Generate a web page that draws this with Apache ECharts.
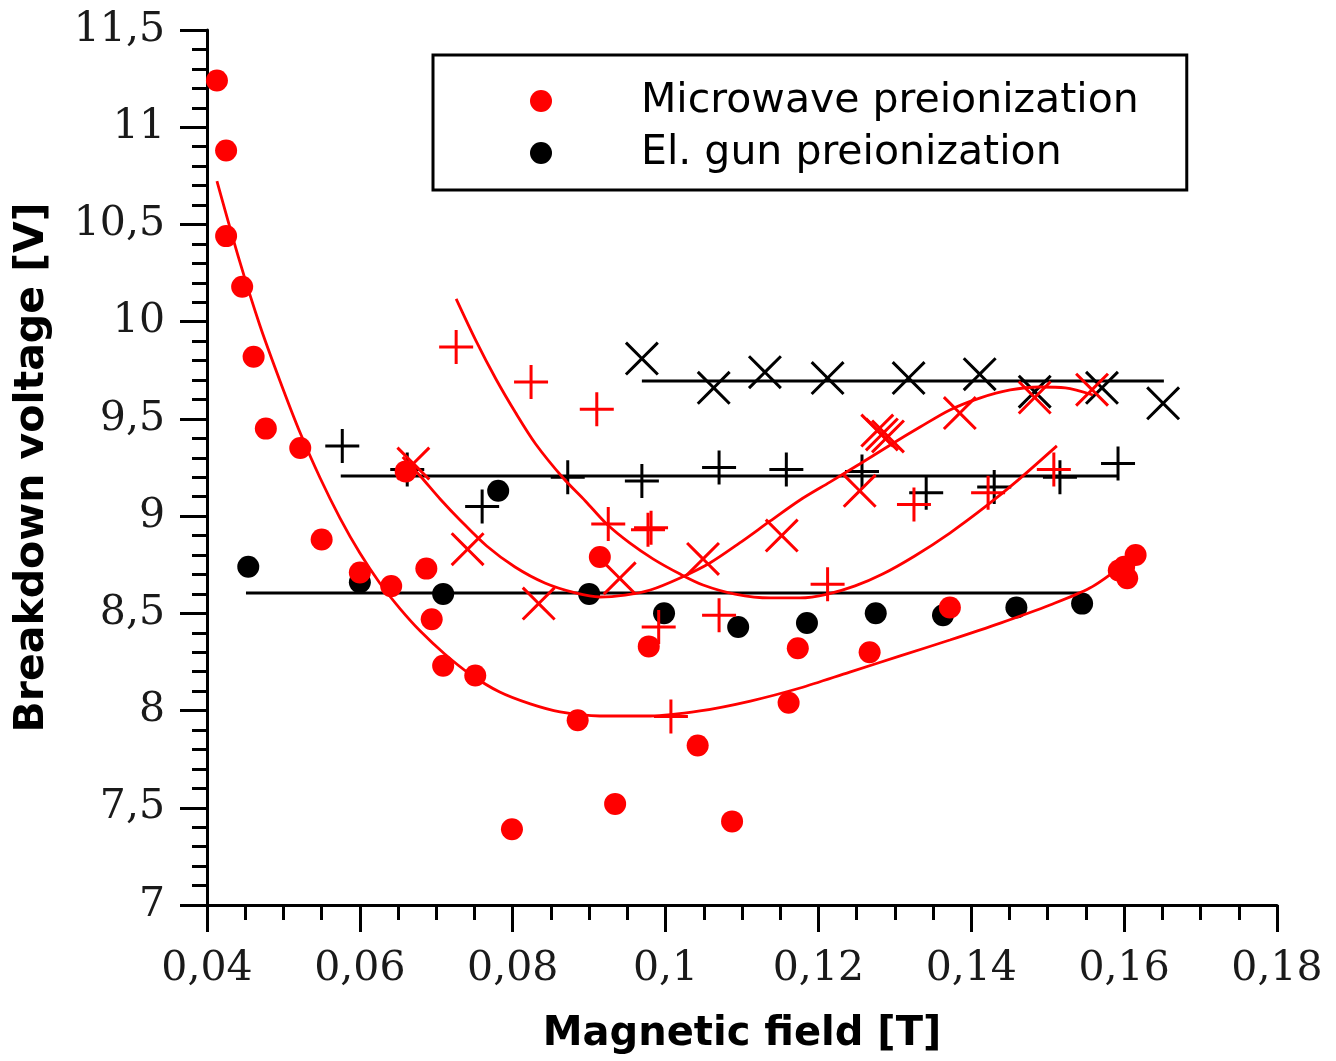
<!DOCTYPE html>
<html><head><meta charset="utf-8">
<script src="https://cdn.jsdelivr.net/npm/echarts@6/dist/echarts.min.js"></script>
<style>html,body{margin:0;padding:0;background:#fff}#chart{width:1336px;height:1061px}</style>
</head><body><div id="chart"></div>
<script>
// ---- axis ranges ----
const xRange = [0.04, 0.18, 0.02];
const yRange = [7, 11.5, 0.5];

// ---- measured points [B (T), U (V)] ----
const microwaveDots = [[0.0413,11.24],[0.0425,10.88],[0.0425,10.44],[0.0446,10.18],[0.0461,9.82],[0.0477,9.45],[0.0522,9.35],[0.0550,8.88],[0.0600,8.71],[0.0641,8.64],[0.0660,9.23],[0.0687,8.73],[0.0694,8.47],[0.0709,8.23],[0.0751,8.18],[0.0799,7.39],[0.0885,7.95],[0.0914,8.79],[0.0934,7.52],[0.0978,8.33],[0.1042,7.82],[0.1087,7.43],[0.1161,8.04],[0.1173,8.32],[0.1267,8.30],[0.1372,8.53],[0.1593,8.72],[0.1600,8.74],[0.1604,8.68],[0.1615,8.80]];
const gunDots = [[0.0454,8.74],[0.0600,8.66],[0.0709,8.60],[0.0781,9.13],[0.0900,8.60],[0.0998,8.50],[0.1095,8.43],[0.1185,8.45],[0.1275,8.50],[0.1363,8.49],[0.1459,8.53],[0.1545,8.55]];
const microwavePlus = [[0.0726,9.87],[0.0824,9.69],[0.0910,9.55],[0.0925,8.96],[0.0977,8.93],[0.0981,8.94],[0.0991,8.43],[0.1007,7.97],[0.1070,8.49],[0.1212,8.65],[0.1325,9.06],[0.1422,9.12],[0.1508,9.24]];
const gunPlus = [[0.0577,9.36],[0.0662,9.24],[0.0760,9.05],[0.0872,9.20],[0.0969,9.18],[0.1070,9.25],[0.1158,9.24],[0.1257,9.23],[0.1341,9.12],[0.1430,9.15],[0.1516,9.20],[0.1592,9.27]];
const microwaveCross = [[0.0670,9.27],[0.0741,8.83],[0.0834,8.55],[0.0940,8.68],[0.1049,8.78],[0.1152,8.90],[0.1254,9.13],[0.1277,9.44],[0.1283,9.42],[0.1291,9.41],[0.1385,9.53],[0.1483,9.61],[0.1558,9.65]];
const gunCross = [[0.0969,9.81],[0.1063,9.66],[0.1130,9.74],[0.1212,9.71],[0.1318,9.71],[0.1411,9.73],[0.1483,9.64],[0.1571,9.66],[0.1651,9.58]];

// ---- gun preionization mean levels ----
const gunLevelDots = [[0.0451,8.605],[0.1542,8.605]];
const gunLevelPlus = [[0.0575,9.206],[0.1592,9.206]];
const gunLevelCross = [[0.0969,9.695],[0.1652,9.695]];

// ---- microwave fit curves ----
const fitDots = [[0.0413,10.723],[0.0443,10.307],[0.0469,9.983],[0.0496,9.690],[0.0522,9.427],[0.0548,9.196],[0.0574,8.990],[0.0600,8.810],[0.0626,8.656],[0.0653,8.522],[0.0679,8.409],[0.0711,8.291],[0.0744,8.188],[0.0783,8.095],[0.0823,8.034],[0.0862,7.993],[0.0914,7.972],[0.0980,7.972],[0.1045,7.998],[0.1111,8.049],[0.1176,8.116],[0.1241,8.198],[0.1307,8.281],[0.1372,8.363],[0.1438,8.450],[0.1503,8.543],[0.1555,8.630],[0.1595,8.738]];
const fitCross = [[0.0656,9.304],[0.0679,9.206],[0.0705,9.088],[0.0731,8.980],[0.0766,8.846],[0.0803,8.738],[0.0842,8.656],[0.0882,8.605],[0.0914,8.584],[0.0947,8.594],[0.0980,8.620],[0.1019,8.682],[0.1058,8.759],[0.1097,8.862],[0.1137,8.975],[0.1176,9.083],[0.1215,9.175],[0.1254,9.268],[0.1294,9.366],[0.1333,9.458],[0.1372,9.546],[0.1411,9.607],[0.1451,9.649],[0.1490,9.664],[0.1523,9.659],[0.1559,9.623]];
const fitPlus = [[0.0726,10.117],[0.0752,9.901],[0.0778,9.705],[0.0804,9.530],[0.0830,9.371],[0.0866,9.196],[0.0895,9.078],[0.0923,8.959],[0.0953,8.862],[0.0984,8.779],[0.1019,8.702],[0.1049,8.646],[0.1091,8.599],[0.1137,8.579],[0.1176,8.579],[0.1212,8.599],[0.1248,8.641],[0.1284,8.702],[0.1326,8.795],[0.1372,8.913],[0.1418,9.047],[0.1460,9.181],[0.1512,9.361]];

const legendNames = ['Microwave preionization', 'El. gun preionization'];

const RED = '#ff0000', BLACK = '#000000';
const PLUS = 'path://M-17,-1.5L-1.5,-1.5L-1.5,-17L1.5,-17L1.5,-1.5L17,-1.5L17,1.5L1.5,1.5L1.5,17L-1.5,17L-1.5,1.5L-17,1.5Z';
const CROSS = 'path://M-14.88,-17L0,-2.12L14.88,-17L17,-14.88L2.12,0L17,14.88L14.88,17L0,2.12L-14.88,17L-17,14.88L-2.12,0L-17,-14.88Z';

function fmt(v) { return String(+v.toFixed(4)).replace('.', ','); }
function scatter(name, data, symbol, size, color, z) {
  return { type: 'scatter', name, data, symbol, symbolSize: size, itemStyle: { color, opacity: 1 }, z, silent: true };
}
function curve(data, color, width, smooth, z) {
  return { type: 'line', data, smooth, symbol: 'none', showSymbol: false, lineStyle: { color, width }, z, silent: true };
}

const axisCommon = {
  type: 'value',
  axisLine: { show: true, onZero: false, lineStyle: { color: BLACK, width: 3 } },
  axisTick: { show: true, inside: false, length: 27, lineStyle: { color: BLACK, width: 3 } },
  minorTick: { show: true, length: 15, lineStyle: { color: BLACK, width: 3 } },
  splitLine: { show: false },
  axisLabel: { fontFamily: 'DejaVu Serif', fontSize: 41, color: '#1a1a1a', formatter: fmt },
  nameLocation: 'middle',
  nameTextStyle: { fontFamily: 'DejaVu Sans', fontWeight: 'bold', color: BLACK }
};

const chart = echarts.init(document.getElementById('chart'), null, { renderer: 'canvas' });
chart.setOption({
  animation: false,
  backgroundColor: '#ffffff',
  grid: { left: 207, right: 59, top: 30, bottom: 156, containLabel: false },
  xAxis: Object.assign({}, axisCommon, {
    min: xRange[0], max: xRange[1], interval: xRange[2],
    minorTick: Object.assign({}, axisCommon.minorTick, { splitNumber: 4 }),
    axisLabel: Object.assign({}, axisCommon.axisLabel, { margin: 44 }),
    name: 'Magnetic field [T]', nameGap: 110,
    nameTextStyle: Object.assign({}, axisCommon.nameTextStyle, { fontSize: 40 })
  }),
  yAxis: Object.assign({}, axisCommon, {
    min: yRange[0], max: yRange[1], interval: yRange[2],
    minorTick: Object.assign({}, axisCommon.minorTick, { splitNumber: 5 }),
    axisLabel: Object.assign({}, axisCommon.axisLabel, { margin: 42 }),
    name: 'Breakdown voltage [V]', nameGap: 154, nameRotate: 90,
    nameTextStyle: Object.assign({}, axisCommon.nameTextStyle, { fontSize: 41 })
  }),
  legend: {
    data: legendNames,
    orient: 'vertical',
    left: 433, top: 55,
    padding: [22, 48, 13, 97],
    itemGap: 4,
    itemWidth: 190, itemHeight: 22,
    icon: 'circle',
    selectedMode: false,
    borderColor: BLACK, borderWidth: 3,
    backgroundColor: '#ffffff',
    textStyle: { fontFamily: 'DejaVu Sans', fontSize: 41, color: BLACK, lineHeight: 48 }
  },
  series: [
    curve(gunLevelDots, BLACK, 3, false, 2),
    curve(gunLevelPlus, BLACK, 3, false, 2),
    curve(gunLevelCross, BLACK, 3, false, 2),
    scatter('gun cross', gunCross, CROSS, 34, BLACK, 3),
    scatter('gun plus', gunPlus, PLUS, 34, BLACK, 3),
    scatter(legendNames[1], gunDots, 'circle', 22, BLACK, 4),
    curve(fitDots, RED, 2.8, 0.3, 5),
    curve(fitCross, RED, 2.8, 0.3, 5),
    curve(fitPlus, RED, 2.8, 0.3, 5),
    scatter('mw cross', microwaveCross, CROSS, 34, RED, 6),
    scatter('mw plus', microwavePlus, PLUS, 34, RED, 6),
    scatter(legendNames[0], microwaveDots, 'circle', 22, RED, 7)
  ]
});
</script>
</body></html>
